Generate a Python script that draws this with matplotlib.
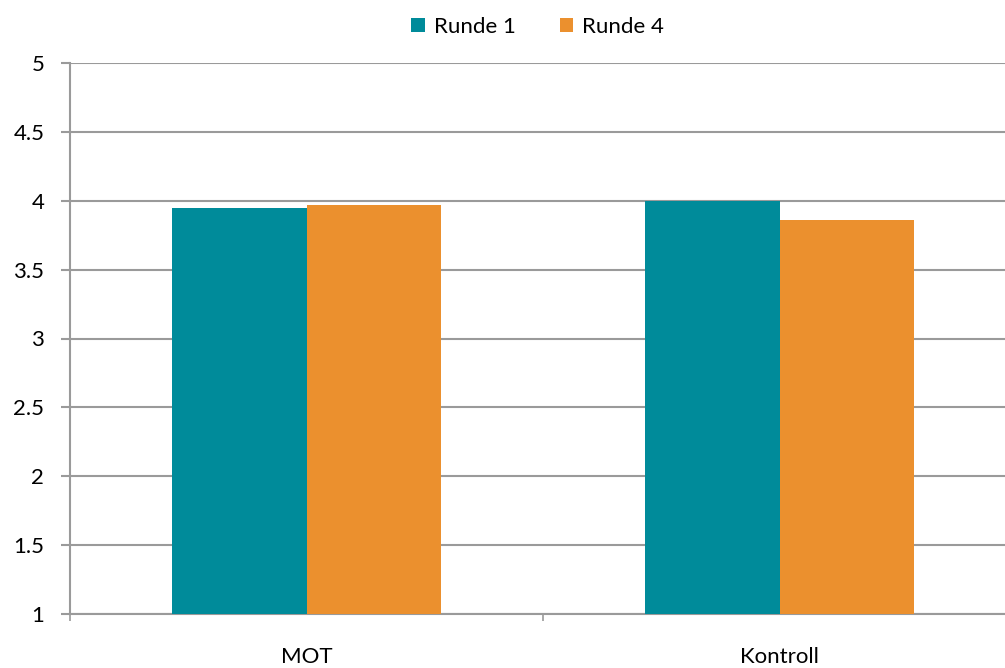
import matplotlib
matplotlib.use('Agg')
import matplotlib.pyplot as plt
import numpy as np

categories = ['MOT', 'Kontroll']
series_names = ['Runde 1', 'Runde 4']
runde1 = [3.95, 3.995]
runde4 = [3.97, 3.86]
yticks = [1, 1.5, 2, 2.5, 3, 3.5, 4, 4.5, 5]

TEAL = '#008B9A'
ORANGE = '#EB902E'
GRID = '#9A9A9A'
FS = 16

plt.rcParams['font.family'] = ['Lato', 'DejaVu Sans']

fig = plt.figure(figsize=(10.05, 6.68), dpi=100)
ax = fig.add_axes([70 / 1005, 54 / 668, 946 / 1005, 551 / 668])

x = np.arange(len(categories))
w = 0.285
ax.bar(x - w / 2, runde1, w, bottom=0, color=TEAL, label=series_names[0], zorder=3)
ax.bar(x + w / 2, runde4, w, bottom=0, color=ORANGE, label=series_names[1], zorder=3)

ax.set_ylim(1, 5)
ax.set_xlim(-0.5, len(categories) - 0.5)
ax.set_yticks(yticks)
ax.set_yticklabels([f'{v:g}' for v in yticks])
ax.yaxis.grid(True, color=GRID, linewidth=1.5, zorder=0)
ax.set_axisbelow(True)

# category labels centred, tick marks on the boundaries
ax.set_xticks(x)
ax.set_xticklabels(categories)
ax.tick_params(axis='x', length=0, pad=24, labelsize=FS)
ax.set_xticks(np.arange(len(categories) + 1) - 0.5, minor=True)
ax.tick_params(axis='x', which='minor', length=5, width=1.2, color=GRID)
ax.tick_params(axis='y', length=6.5, width=1.5, color=GRID, pad=12, labelsize=FS)

for s in ['top', 'right']:
    ax.spines[s].set_visible(False)
for s in ['left', 'bottom']:
    ax.spines[s].set_color(GRID)
    ax.spines[s].set_linewidth(1.5)

fig.legend(loc='upper center', bbox_to_anchor=(0.535, 1.005), ncol=2, frameon=False,
           handlelength=0.6, handleheight=0.6, handletextpad=0.4,
           columnspacing=2.0, fontsize=FS)

fig.savefig('out.png', dpi=100, facecolor='white')
